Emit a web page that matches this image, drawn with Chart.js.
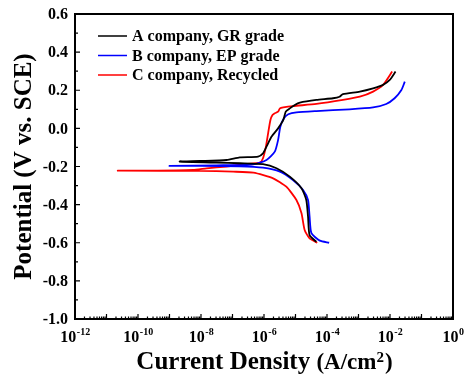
<!DOCTYPE html>
<html>
<head>
<meta charset="utf-8">
<script src="https://cdn.jsdelivr.net/npm/chart.js@4.4.0/dist/chart.umd.min.js"></script>
<style>
  html, body { margin: 0; padding: 0; background: #fff; }
</style>
</head>
<body>
<canvas id="tafelChart" width="465" height="375"></canvas>
<script>
const seriesLabels = ['A company, GR grade', 'B company, EP grade', 'C company, Recycled'];
const seriesColors = ['#000000', '#0000ff', '#ff0000'];

// scan order: from -0.6 V (cathodic) up through Ecorr to the anodic end
const aCurrent = [4.6e-5, 2.8e-5, 2.5e-5, 2.2e-5, 1.55e-5, 6.6e-6, 2.5e-6, 9.3e-7, 1.7e-7, 3.1e-8, 2.1e-9,
  9.1e-9, 6.5e-8, 1.7e-7, 6.5e-7, 9.3e-7, 1.2e-6, 1.74e-6, 2.8e-6, 4.1e-6, 4.9e-6, 6.6e-6, 9.5e-6, 1.38e-5,
  4.6e-5, 1.55e-4, 2.5e-4, 3.2e-4, 1.1e-3, 2.9e-3, 6.0e-3, 9.8e-3, 1.5e-2];
const aPotential = [-0.595, -0.56, -0.463, -0.376, -0.314, -0.253, -0.209, -0.188, -0.183, -0.18, -0.174,
  -0.171, -0.166, -0.152, -0.148, -0.131, -0.096, -0.043, 0.0, 0.044, 0.088, 0.105, 0.123, 0.135,
  0.149, 0.158, 0.166, 0.18, 0.193, 0.21, 0.228, 0.254, 0.298];

const bCurrent = [1.17e-4, 5.9e-5, 3.2e-5, 2.8e-5, 2.5e-5, 1.74e-5, 8.3e-6, 3.2e-6, 9.3e-7, 1.7e-7, 9.1e-9, 1.0e-9,
  3.1e-8, 4.6e-7, 1.2e-6, 2.2e-6, 2.8e-6, 3.3e-6, 4.3e-6, 5.9e-6, 1.07e-5, 4.6e-5, 5.2e-4, 2.9e-3,
  7.6e-3, 1.4e-2, 2.3e-2, 2.95e-2];
const bPotential = [-0.6, -0.589, -0.55, -0.463, -0.376, -0.323, -0.271, -0.227, -0.206, -0.199, -0.197, -0.197,
  -0.194, -0.189, -0.166, -0.122, -0.061, 0.009, 0.053, 0.074, 0.084, 0.091, 0.1, 0.11,
  0.128, 0.158, 0.201, 0.245];

const cCurrent = [4.9e-5, 2.8e-5, 1.95e-5, 1.55e-5, 1.07e-5, 5.1e-6, 1.95e-6, 4.6e-7, 1.05e-7, 9.1e-9, 2.3e-11,
  2.4e-10, 5.6e-9, 1.5e-8, 6.5e-8, 2.75e-7, 7.4e-7, 9.3e-7, 1.15e-6, 1.35e-6, 1.6e-6, 1.86e-6, 2.2e-6,
  2.8e-6, 3.2e-6, 4.1e-6, 8.3e-6, 4.6e-5, 3.2e-4, 1.1e-3, 2.9e-3, 6.0e-3, 1.17e-2];
const cPotential = [-0.6, -0.577, -0.533, -0.445, -0.376, -0.306, -0.262, -0.232, -0.227, -0.223, -0.222,
  -0.222, -0.218, -0.21, -0.2, -0.187, -0.18, -0.157, -0.096, -0.026, 0.044, 0.07, 0.079,
  0.088, 0.105, 0.11, 0.117, 0.128, 0.149, 0.166, 0.193, 0.228, 0.298];

const yTicks = [0.6, 0.4, 0.2, 0.0, -0.2, -0.4, -0.6, -0.8, -1.0];
const xTickExponents = [-12, -10, -8, -6, -4, -2, 0];
const xDecades = [-12, -11, -10, -9, -8, -7, -6, -5, -4, -3, -2, -1, 0];

const xTitleMain = 'Current Density ';
const xTitleUnit = '(A/cm';
const xTitleSup = '2';
const xTitleEnd = ')';
const yTitle = 'Potential (V vs. SCE)';

const serif = '"Liberation Serif", "Times New Roman", serif';

function toPoints(xs, ys) {
    return xs.map((v, i) => ({ x: v, y: ys[i] }));
}

const frameAndLabels = {
    id: 'frameAndLabels',
    afterDraw(chart) {
        const ctx = chart.ctx;
        const a = chart.chartArea;
        const xs = chart.scales.x;
        const ys = chart.scales.y;
        ctx.save();
        ctx.strokeStyle = '#000';
        ctx.fillStyle = '#000';

        // frame
        ctx.lineWidth = 2;
        ctx.strokeRect(a.left, a.top, a.right - a.left, a.bottom - a.top);

        // y ticks (inward), majors + minors between
        ctx.lineWidth = 1.2;
        ctx.beginPath();
        yTicks.forEach((v, i) => {
            const p = ys.getPixelForValue(v);
            ctx.moveTo(a.left, p); ctx.lineTo(a.left + 5, p);
            if (i < yTicks.length - 1) {
                const m = ys.getPixelForValue((v + yTicks[i + 1]) / 2);
                ctx.moveTo(a.left, m); ctx.lineTo(a.left + 3, m);
            }
        });
        // x ticks (inward), decades + log minors
        xDecades.forEach((e, i) => {
            const p = xs.getPixelForValue(Math.pow(10, e));
            ctx.moveTo(p, a.bottom); ctx.lineTo(p, a.bottom - 5);
            if (i < xDecades.length - 1) {
                for (let k = 2; k <= 9; k++) {
                    const m = xs.getPixelForValue(k * Math.pow(10, e));
                    ctx.moveTo(m, a.bottom); ctx.lineTo(m, a.bottom - 2.5);
                }
            }
        });
        ctx.stroke();

        // y tick labels
        ctx.font = 'bold 16px ' + serif;
        ctx.textAlign = 'right';
        ctx.textBaseline = 'middle';
        yTicks.forEach(v => {
            ctx.fillText(v.toFixed(1), a.left - 7, ys.getPixelForValue(v) + 1);
        });

        // x tick labels: 10 with superscript exponent
        ctx.textBaseline = 'alphabetic';
        ctx.textAlign = 'left';
        xTickExponents.forEach(e => {
            const p = xs.getPixelForValue(Math.pow(10, e));
            ctx.font = 'bold 16px ' + serif;
            const wBase = ctx.measureText('10').width;
            ctx.font = 'bold 10px ' + serif;
            const sup = String(e);
            const wSup = ctx.measureText(sup).width;
            const x0 = p - (wBase + wSup) / 2;
            ctx.font = 'bold 16px ' + serif;
            ctx.fillText('10', x0, a.bottom + 23);
            ctx.font = 'bold 10px ' + serif;
            ctx.fillText(sup, x0 + wBase + 0.5, a.bottom + 16);
        });

        // x axis title, with real superscript
        const parts = [
            { t: xTitleMain, f: 'bold 25px ', dy: 0 },
            { t: xTitleUnit, f: 'bold 23px ', dy: 0 },
            { t: xTitleSup, f: 'bold 15px ', dy: -7 },
            { t: xTitleEnd, f: 'bold 23px ', dy: 0 }
        ];
        let total = 0;
        parts.forEach(p => { ctx.font = p.f + serif; p.w = ctx.measureText(p.t).width; total += p.w; });
        let cx = (a.left + a.right) / 2 - total / 2;
        parts.forEach(p => {
            ctx.font = p.f + serif;
            ctx.fillText(p.t, cx, 369 + p.dy);
            cx += p.w + (p.t === xTitleSup ? 1 : 0);
        });

        // y axis title
        ctx.font = 'bold 25px ' + serif;
        ctx.textAlign = 'center';
        ctx.save();
        ctx.translate(31, (a.top + a.bottom) / 2);
        ctx.rotate(-Math.PI / 2);
        ctx.fillText(yTitle, 0, 0);
        ctx.restore();

        // legend inside plot area
        ctx.font = 'bold 16px ' + serif;
        ctx.textAlign = 'left';
        ctx.textBaseline = 'middle';
        chart.data.datasets.forEach((ds, i) => {
            const ly = 36 + i * 19.5;
            ctx.strokeStyle = ds.borderColor;
            ctx.lineWidth = 1.5;
            ctx.beginPath();
            ctx.moveTo(98, ly); ctx.lineTo(127, ly);
            ctx.stroke();
            ctx.fillStyle = '#000';
            ctx.fillText(ds.label, 132, ly + 1);
        });
        ctx.restore();
    }
};

const seriesPoints = [toPoints(aCurrent, aPotential), toPoints(bCurrent, bPotential), toPoints(cCurrent, cPotential)];

new Chart(document.getElementById('tafelChart').getContext('2d'), {
    type: 'scatter',
    data: {
        datasets: seriesPoints.map((pts, i) => ({
            label: seriesLabels[i],
            data: pts,
            showLine: true,
            borderColor: seriesColors[i],
            backgroundColor: seriesColors[i],
            borderWidth: 1.8,
            pointRadius: 0,
            tension: 0.2
        }))
    },
    options: {
        responsive: false,
        animation: false,
        layout: { padding: { top: 14, right: 12, left: 0, bottom: 0 } },
        plugins: { legend: { display: false }, tooltip: { enabled: false } },
        scales: {
            x: {
                type: 'logarithmic',
                min: 1e-12,
                max: 1,
                ticks: { display: false },
                grid: { display: false },
                border: { display: false },
                afterFit(scale) { scale.height = 56; }
            },
            y: {
                type: 'linear',
                min: -1,
                max: 0.6,
                ticks: { display: false },
                grid: { display: false },
                border: { display: false },
                afterFit(scale) { scale.width = 75; }
            }
        }
    },
    plugins: [frameAndLabels]
});
</script>
</body>
</html>
